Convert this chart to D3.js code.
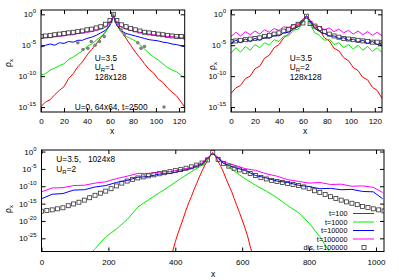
<!DOCTYPE html>
<html>
<head>
<meta charset="utf-8">
<script src="https://cdn.jsdelivr.net/npm/d3@7"></script>
<style>
body { margin: 0; background: #fff; }
text { font-family: 'Liberation Sans', Arial, Helvetica, sans-serif; }
</style>
</head>
<body>
<script>
// values are log10(rho_x)

// --- top panels, 128x128 lattice ---
var topX = [0,4,8,12,16,20,24,28,32,36,40,44,48,52,56,60,63,66,70,74,78,82,86,90,94,98,102,106,110,114,118,122,126];

var tlRed = [-14.9,-14.2,-13.8,-13.0,-12.3,-11.7,-10.4,-9.6,-8.5,-7.7,-6.6,-5.7,-4.8,-3.8,-2.9,-1.6,-0.1,
  -1.5,-2.8,-3.9,-5.0,-6.1,-7.0,-8.0,-8.9,-9.5,-10.5,-11.0,-11.9,-12.6,-13.2,-14.2,-15.3];
var tlGreen = [-9.8,-9.6,-9.0,-8.7,-8.3,-8.0,-7.3,-6.9,-6.4,-5.9,-5.2,-4.8,-4.2,-3.6,-2.9,-1.7,-0.3,
  -1.8,-2.9,-3.6,-3.9,-4.3,-4.9,-5.6,-6.3,-6.9,-7.4,-8.0,-8.6,-9.0,-9.3,-9.9,-10.4];
var tlBlue = [-5.3,-5.0,-4.8,-5.0,-4.6,-4.7,-4.4,-4.5,-4.2,-4.2,-3.9,-3.7,-3.4,-3.0,-2.6,-1.8,-0.3,
  -1.8,-2.7,-3.1,-3.3,-3.5,-3.7,-3.9,-4.1,-4.2,-4.3,-4.5,-4.6,-4.8,-4.9,-5.1,-5.3];
var tlMagenta = [-3.9,-3.7,-3.8,-3.6,-3.5,-3.5,-3.3,-3.3,-3.1,-3.0,-2.9,-2.8,-2.6,-2.4,-2.1,-1.4,-0.2,
  -1.4,-2.1,-2.4,-2.6,-2.8,-2.9,-3.1,-3.2,-3.3,-3.4,-3.5,-3.6,-3.6,-3.7,-3.8,-3.9];
var tlDis = [-3.6,-3.5,-3.4,-3.3,-3.2,-3.1,-3.0,-2.9,-2.8,-2.7,-2.5,-2.4,-2.2,-2.0,-1.6,-1.0,0.0,
  -1.0,-1.7,-2.0,-2.3,-2.5,-2.7,-2.9,-3.0,-3.1,-3.2,-3.3,-3.4,-3.5,-3.6,-3.6,-3.7];
// U=0, 64x64, t=2500
var tlU0X = [32,36.5,40.8,43.7,47,50.9,55,59.6,62.5,66.9,69.7,72.6,84.2,87,90];
var tlU0 = [-4.6,-5.7,-5.5,-4.4,-5.0,-4.4,-3.6,-1.4,-0.1,-1.4,-2.5,-3.3,-4.6,-5.5,-5.2];

var trRed = [-12.8,-11.9,-11.5,-10.4,-10.0,-8.8,-8.4,-7.1,-6.6,-5.4,-4.9,-3.8,-3.2,-2.2,-1.7,-0.8,-0.2,
  -1.0,-2.0,-2.6,-3.8,-4.3,-5.5,-5.9,-7.0,-7.5,-8.6,-9.1,-10.2,-10.6,-11.8,-12.3,-13.6];
var trGreen = [-6.3,-5.4,-6.1,-5.2,-5.8,-4.9,-5.4,-4.6,-5.0,-4.1,-4.4,-3.5,-3.5,-2.6,-2.4,-1.2,-0.3,
  -1.6,-3.0,-3.4,-4.2,-4.0,-4.9,-4.6,-5.4,-4.9,-5.6,-5.0,-5.8,-5.2,-6.0,-5.4,-6.2];
var trBlue = [-4.7,-4.2,-4.6,-4.0,-4.4,-3.9,-4.2,-3.7,-3.9,-3.4,-3.5,-3.0,-2.9,-2.4,-2.0,-1.1,-0.3,
  -1.2,-2.3,-2.8,-3.1,-3.5,-3.5,-3.9,-3.8,-4.2,-4.0,-4.5,-4.2,-4.7,-4.4,-4.9,-4.6];
var trMagenta = [-3.6,-2.9,-3.5,-2.8,-3.3,-2.7,-3.2,-2.5,-2.9,-2.3,-2.6,-2.0,-2.2,-1.7,-1.5,-0.9,-0.2,
  -1.0,-1.8,-2.0,-2.5,-2.2,-2.8,-2.4,-3.0,-2.6,-3.2,-2.7,-3.3,-2.8,-3.4,-2.9,-3.5];
var trDis = [-4.4,-4.3,-4.2,-4.1,-4.0,-3.9,-3.8,-3.6,-3.4,-3.2,-3.0,-2.7,-2.4,-2.0,-1.6,-1.4,-0.3,
  -1.5,-1.9,-2.3,-2.8,-3.2,-3.5,-3.7,-3.9,-4.0,-4.1,-4.2,-4.3,-4.4,-4.5,-4.5,-4.6];

// --- bottom panel, 1024x8 ---
var botX = d3.range(0, 993, 32).concat([1020]);
var botBlue = [-13.6,-12.3,-12.1,-11.1,-11.0,-10.2,-9.8,-8.9,-8.3,-7.4,-7.2,-6.5,-6.3,-5.6,-4.9,-3.6,-0.5,
  -3.4,-4.6,-5.4,-6.9,-7.6,-8.5,-8.9,-9.7,-10.1,-10.7,-10.6,-11.0,-10.9,-11.5,-11.6,-13.6];
var botMagenta = [-11.6,-10.5,-10.4,-9.8,-9.7,-9.1,-8.7,-7.8,-7.1,-6.3,-6.3,-5.9,-5.8,-5.2,-4.6,-3.3,-0.4,
  -3.0,-3.9,-4.9,-5.4,-6.4,-7.1,-8.1,-8.6,-9.1,-8.9,-9.5,-9.4,-10.0,-9.9,-10.3,-11.8];
var botGreenX = d3.range(128, 897, 32);
var botGreen = [-31.5,-28.0,-24.6,-22.3,-19.6,-16.0,-13.9,-11.9,-9.9,-7.8,-5.8,-3.9,-0.5,
  -3.3,-5.6,-7.8,-9.7,-11.4,-13.3,-15.6,-17.6,-20.6,-24.5,-29.3,-33.0];
var botRedX = d3.range(384, 641, 8);
var botRed = [-31.5,-28.8,-26.0,-23.6,-21.4,-19.2,-16.9,-14.8,-13.0,-11.0,-9.2,-7.3,-5.6,-4.0,-2.6,-1.3,-0.3,
  -1.4,-2.8,-4.3,-5.9,-7.9,-9.7,-11.4,-13.5,-15.6,-17.6,-19.7,-21.9,-24.3,-27.3,-30.0,-33.0];
var botDisX = d3.range(0, 1025, 16);
var botDis = [-17.2,-17.0,-16.8,-16.5,-16.2,-15.6,-15.1,-14.6,-14.0,-13.3,-12.6,-12.0,-11.4,-10.7,-9.9,-9.1,
  -8.5,-8.0,-7.6,-7.3,-7.0,-6.7,-6.4,-6.1,-5.8,-5.5,-5.2,-4.8,-4.4,-3.9,-3.3,-2.4,-0.3,
  -2.3,-3.4,-4.2,-4.8,-5.3,-5.8,-6.3,-6.9,-7.5,-7.9,-8.3,-8.6,-8.9,-9.2,-9.5,-9.8,
  -10.2,-10.6,-11.3,-11.8,-12.4,-13.0,-13.5,-14.0,-14.5,-14.9,-15.3,-15.8,-16.1,-16.5,-16.8,-17.1];

var topXTicks = [0,20,40,60,80,100,120];
var topYTicks = [0,-5,-10,-15];
var botXTicks = [0,200,400,600,800,1000];
var botYTicks = [0,-5,-10,-15,-20,-25];

var legendLabels = ["t=100","t=1000","t=10000","t=100000","dis, t=100000"];
var colors = ["#ff0000","#00ee00","#0000ff","#ff00ff"];

var svg = d3.select("body").append("svg").attr("width", 399).attr("height", 280);

function zip(xs, ys) {
  return xs.map(function(v, i) { return [v, Math.pow(10, ys[i])]; });
}

function panel(p) {
  var x = d3.scaleLinear().domain(p.xDomain).range([p.left, p.right]);
  var y = d3.scaleLog().domain([Math.pow(10, p.yMin), Math.pow(10, p.yMax)]).range([p.bottom, p.top]);
  var g = svg.append("g");

  svg.append("clipPath").attr("id", "clip" + p.id).append("rect")
    .attr("x", p.left).attr("y", p.top)
    .attr("width", p.right - p.left).attr("height", p.bottom - p.top);

  var plot = g.append("g").attr("clip-path", "url(#clip" + p.id + ")");
  var line = d3.line().x(function(d) { return x(d[0]); }).y(function(d) { return y(d[1]); });

  p.lines.forEach(function(s, i) {
    plot.append("path").datum(zip(s.x, s.y))
      .attr("fill", "none").attr("stroke", colors[i]).attr("stroke-width", 1)
      .attr("d", line);
  });

  if (p.dots) {
    plot.selectAll(".dot").data(zip(p.dots.x, p.dots.y)).enter().append("circle")
      .attr("cx", function(d) { return x(d[0]); })
      .attr("cy", function(d) { return y(d[1]); })
      .attr("r", 1.8).attr("fill", "#808080");
  }

  plot.selectAll(".sq").data(zip(p.dis.x, p.dis.y)).enter().append("rect")
    .attr("x", function(d) { return x(d[0]) - 2; })
    .attr("y", function(d) { return y(d[1]) - 2; })
    .attr("width", 4).attr("height", 4)
    .attr("fill", "none").attr("stroke", "#333").attr("stroke-width", 0.8);

  // axes, gnuplot style ticks pointing inward on all four sides
  var yTickVals = p.yTicks.map(function(e) { return Math.pow(10, e); });
  function clean(sel) {
    sel.select(".domain").remove();
    sel.selectAll("line").attr("stroke", "#000");
    sel.attr("font-size", 8).attr("font-family", null);
  }
  g.append("g").attr("transform", "translate(0," + p.bottom + ")")
    .call(d3.axisBottom(x).tickValues(p.xTicks).tickFormat(d3.format("d"))
      .tickSizeInner(-4).tickSizeOuter(0).tickPadding(p.xPad))
    .call(clean);
  g.append("g").attr("transform", "translate(0," + p.top + ")")
    .call(d3.axisTop(x).tickValues(p.xTicks).tickSizeInner(-4).tickSizeOuter(0).tickFormat(""))
    .call(clean);
  g.append("g").attr("transform", "translate(" + p.left + ",0)")
    .call(d3.axisLeft(y).tickValues(yTickVals).tickSizeInner(-4).tickSizeOuter(0).tickFormat(""))
    .call(clean);
  g.append("g").attr("transform", "translate(" + p.right + ",0)")
    .call(d3.axisRight(y).tickValues(yTickVals).tickSizeInner(-4).tickSizeOuter(0).tickFormat(""))
    .call(clean);

  p.yTicks.forEach(function(e) {
    var t = g.append("text").attr("x", p.left - 5).attr("y", y(Math.pow(10, e)) + 3)
      .attr("text-anchor", "end").attr("font-size", 8);
    t.append("tspan").text("10");
    t.append("tspan").attr("dy", -4).attr("font-size", 6).text(e === 0 ? "0" : "-" + (-e));
  });

  g.append("rect").attr("x", p.left).attr("y", p.top)
    .attr("width", p.right - p.left).attr("height", p.bottom - p.top)
    .attr("fill", "none").attr("stroke", "#000").attr("stroke-width", 1);

  // axis titles
  var yl = g.append("text").attr("transform", "translate(" + p.yLabel[0] + "," + p.yLabel[1] + ") rotate(-90)")
    .attr("text-anchor", "middle").attr("font-size", 8.5);
  yl.append("tspan").text("\u03c1");
  yl.append("tspan").attr("dy", 2).attr("font-size", 6).text("x");
  g.append("text").attr("x", p.xLabel[0]).attr("y", p.xLabel[1])
    .attr("text-anchor", "middle").attr("font-size", 8.5).text("x");

  return { x: x, y: y, g: g };
}

function note(g, x, y, parts) {
  var t = g.append("text").attr("x", x).attr("y", y).attr("font-size", 8.3).style("white-space", "pre");
  parts.forEach(function(pt) {
    var s = t.append("tspan").text(pt[0]);
    if (pt[1]) s.attr("dy", pt[1]);
    if (pt[2]) s.attr("font-size", pt[2]);
  });
}

var tl = panel({
  id: "tl", left: 41, right: 184.7, top: 10, bottom: 112,
  xDomain: [0, 125], yMin: -15.8, yMax: 0.7,
  xTicks: topXTicks, yTicks: topYTicks, xPad: 6,
  yLabel: [11, 63], xLabel: [112, 134],
  lines: [{x: topX, y: tlRed}, {x: topX, y: tlGreen}, {x: topX, y: tlBlue}, {x: topX, y: tlMagenta}],
  dis: {x: topX, y: tlDis},
  dots: {x: tlU0X, y: tlU0}
});
note(tl.g, 94.7, 61, [["U=3.5"]]);
note(tl.g, 94.7, 70, [["U"], ["R", 2, 6], ["=1", -2, 8.3]]);
note(tl.g, 94.7, 79.5, [["128x128"]]);
note(tl.g, 74.7, 110, [["U=0, 64x64, t=2500"]]);
tl.g.append("circle").attr("cx", 164).attr("cy", 107).attr("r", 1.8).attr("fill", "#808080");

var tr = panel({
  id: "tr", left: 231, right: 382, top: 10, bottom: 112,
  xDomain: [0, 126], yMin: -15.8, yMax: 0.7,
  xTicks: topXTicks, yTicks: topYTicks, xPad: 6,
  yLabel: [215, 66], xLabel: [305, 134],
  lines: [{x: topX, y: trRed}, {x: topX, y: trGreen}, {x: topX, y: trBlue}, {x: topX, y: trMagenta}],
  dis: {x: topX, y: trDis}
});
note(tr.g, 289.7, 61, [["U=3.5"]]);
note(tr.g, 289.7, 70, [["U"], ["R", 2, 6], ["=2", -2, 8.3]]);
note(tr.g, 289.7, 79.5, [["128x128"]]);

var bot = panel({
  id: "bot", left: 41.5, right: 384, top: 150, bottom: 251.5,
  xDomain: [0, 1024], yMin: -28.8, yMax: 0.45,
  xTicks: botXTicks, yTicks: botYTicks, xPad: 8,
  yLabel: [11, 209], xLabel: [213, 277],
  lines: [{x: botRedX, y: botRed}, {x: botGreenX, y: botGreen}, {x: botX, y: botBlue}, {x: botX, y: botMagenta}],
  dis: {x: botDisX, y: botDis}
});
note(bot.g, 56.3, 161.5, [["U=3.5,   1024x8"]]);
note(bot.g, 56.3, 171.5, [["U"], ["R", 2, 6], ["=2", -2, 8.3]]);

// legend
var leg = bot.g.append("g");
legendLabels.forEach(function(lab, i) {
  var yy = 213.5 + i * 8.5;
  leg.append("text").attr("x", 347.5).attr("y", yy + 2.7).attr("text-anchor", "end")
    .attr("font-size", 7.3).text(lab);
  if (i < 4) {
    leg.append("line").attr("x1", 353).attr("x2", 374).attr("y1", yy).attr("y2", yy)
      .attr("stroke", colors[i]).attr("stroke-width", 1);
  } else {
    leg.append("rect").attr("x", 362).attr("y", yy - 2).attr("width", 4).attr("height", 4)
      .attr("fill", "none").attr("stroke", "#333").attr("stroke-width", 0.8);
  }
});
</script>
</body>
</html>
